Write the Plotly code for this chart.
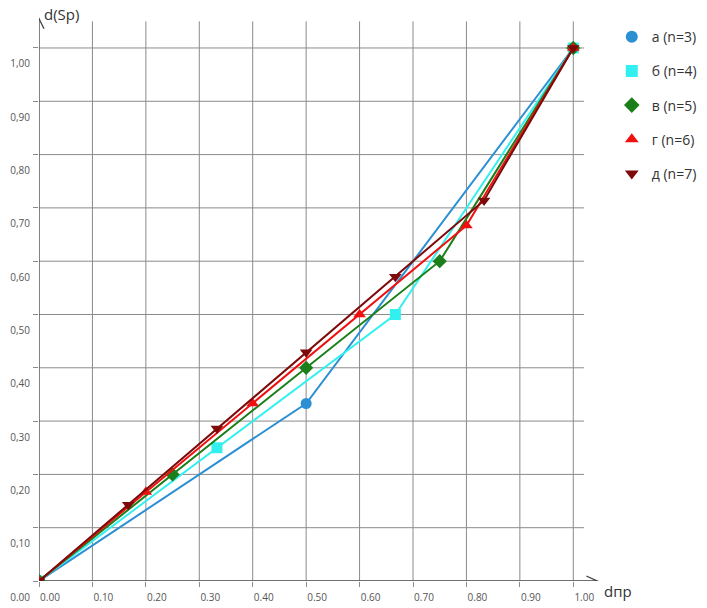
import plotly.graph_objects as go

# ---- data ----
x_a = [0.0, 0.5, 1.0]
y_a = [0.0, 0.333, 1.0]
x_b = [0.0, 0.333, 0.667, 1.0]
y_b = [0.0, 0.25, 0.50, 1.0]
x_v = [0.0, 0.25, 0.50, 0.75, 1.0]
y_v = [0.0, 0.20, 0.40, 0.60, 1.0]
x_g = [0.0, 0.2, 0.4, 0.6, 0.8, 1.0]
y_g = [0.0, 0.167, 0.333, 0.50, 0.667, 1.0]
x_d = [0.0, 0.167, 0.333, 0.50, 0.667, 0.833, 1.0]
y_d = [0.0, 0.143, 0.286, 0.429, 0.571, 0.714, 1.0]

series_names = ["а (n=3)", "б (n=4)", "в (n=5)", "г (n=6)", "д (n=7)"]
series_colors = ["#2b8fd4", "#33f0f0", "#1a7f1a", "#f01010", "#7d0a0a"]
series_symbols = ["circle", "square", "diamond", "triangle-up", "triangle-down"]

tick_vals = [0.0, 0.1, 0.2, 0.3, 0.4, 0.5, 0.6, 0.7, 0.8, 0.9, 1.0]
x_tick_text = ["0.00", "0.10", "0.20", "0.30", "0.40", "0.50", "0.60", "0.70", "0.80", "0.90", "1.00"]
y_tick_text = ["0.00", "0,10", "0,20", "0,30", "0,40", "0,50", "0,60", "0,70", "0,80", "0,90", "1,00"]

X_MAX = 1.05
Y_MAX = 1.06

fig = go.Figure()
xs = [x_a, x_b, x_v, x_g, x_d]
ys = [y_a, y_b, y_v, y_g, y_d]
for xv, yv, name, col, sym in zip(xs, ys, series_names, series_colors, series_symbols):
    fig.add_trace(go.Scatter(
        x=xv, y=yv, name=name, mode="lines+markers", showlegend=False,
        line=dict(color=col, width=2),
        marker=dict(symbol=sym, size=11, color=col),
    ))
# legend entries: marker only
for i, (name, col, sym) in enumerate(zip(series_names, series_colors, series_symbols)):
    fig.add_trace(go.Scatter(
        x=[None], y=[None], name=name, mode="markers", legendgroup=f"g{i}",
        marker=dict(symbol=sym, size=12, color=col),
    ))

shapes = []
grid_col = "#8a8a8a"
for v in tick_vals[1:]:
    shapes.append(dict(type="line", xref="x", yref="y", x0=v, x1=v, y0=0, y1=1.05,
                       line=dict(color=grid_col, width=1), layer="below"))
    shapes.append(dict(type="line", xref="x", yref="y", x0=0, x1=1.02, y0=v, y1=v,
                       line=dict(color=grid_col, width=1), layer="below"))
axis_col = "#404040"
shapes.append(dict(type="line", xref="x", yref="y", x0=0, x1=X_MAX - 0.005, y0=0, y1=0,
                   line=dict(color=axis_col, width=1.3), layer="below"))
shapes.append(dict(type="line", xref="x", yref="y", x0=0, x1=0, y0=0, y1=Y_MAX - 0.005,
                   line=dict(color=axis_col, width=1.3), layer="below"))
shapes.append(dict(type="line", xref="x", yref="y", xsizemode="pixel", xanchor=0,
                   x0=-7, x1=0, y0=0, y1=0, line=dict(color=axis_col, width=1.3)))
shapes.append(dict(type="path", xref="x", yref="y", xsizemode="pixel", ysizemode="pixel",
                   xanchor=X_MAX - 0.005, yanchor=0,
                   path="M -11 5 L 0 0 L -11 -5", line=dict(color=axis_col, width=1.3)))
shapes.append(dict(type="path", xref="x", yref="y", xsizemode="pixel", ysizemode="pixel",
                   xanchor=0, yanchor=Y_MAX - 0.005,
                   path="M -5 -10 L 0 0 L 5 -10", line=dict(color=axis_col, width=1.3)))

annotations = [
    dict(text="d(Sp)", xref="x", yref="y", x=0, y=Y_MAX, xanchor="left", yanchor="top",
         xshift=3, yshift=14, showarrow=False, font=dict(size=15, color="#333333")),
    dict(text="dпр", xref="x", yref="y", x=X_MAX, y=0, xanchor="left", yanchor="top",
         xshift=2, yshift=2, showarrow=False, font=dict(size=15, color="#333333")),
]

fig.update_layout(
    width=707, height=608,
    margin=dict(l=39, r=107, t=16, b=27, autoexpand=False),
    paper_bgcolor="white", plot_bgcolor="white",
    font=dict(family="Open Sans, Noto Sans, sans-serif"),
    shapes=shapes, annotations=annotations,
    showlegend=True,
    legend=dict(x=1.021, y=0.991, xanchor="left", yanchor="top",
                font=dict(size=14, color="#333333"), tracegroupgap=13,
                itemwidth=30, bgcolor="rgba(0,0,0,0)"),
    xaxis=dict(range=[0, X_MAX], showgrid=False, zeroline=False, showline=False,
               automargin=False,
               tickmode="array", tickvals=tick_vals, ticktext=x_tick_text,
               ticks="outside", ticklen=5, tickcolor=grid_col,
               ticklabelshift=11, ticklabelstandoff=2,
               tickfont=dict(size=10, color="#555555")),
    yaxis=dict(range=[0, Y_MAX], showgrid=False, zeroline=False, showline=False,
               automargin=False,
               tickmode="array", tickvals=tick_vals, ticktext=y_tick_text,
               ticks="outside", ticklen=5, tickcolor=grid_col,
               ticklabelshift=16, ticklabelstandoff=1,
               tickfont=dict(size=10, color="#555555")),
)

fig.write_html("out.html")
